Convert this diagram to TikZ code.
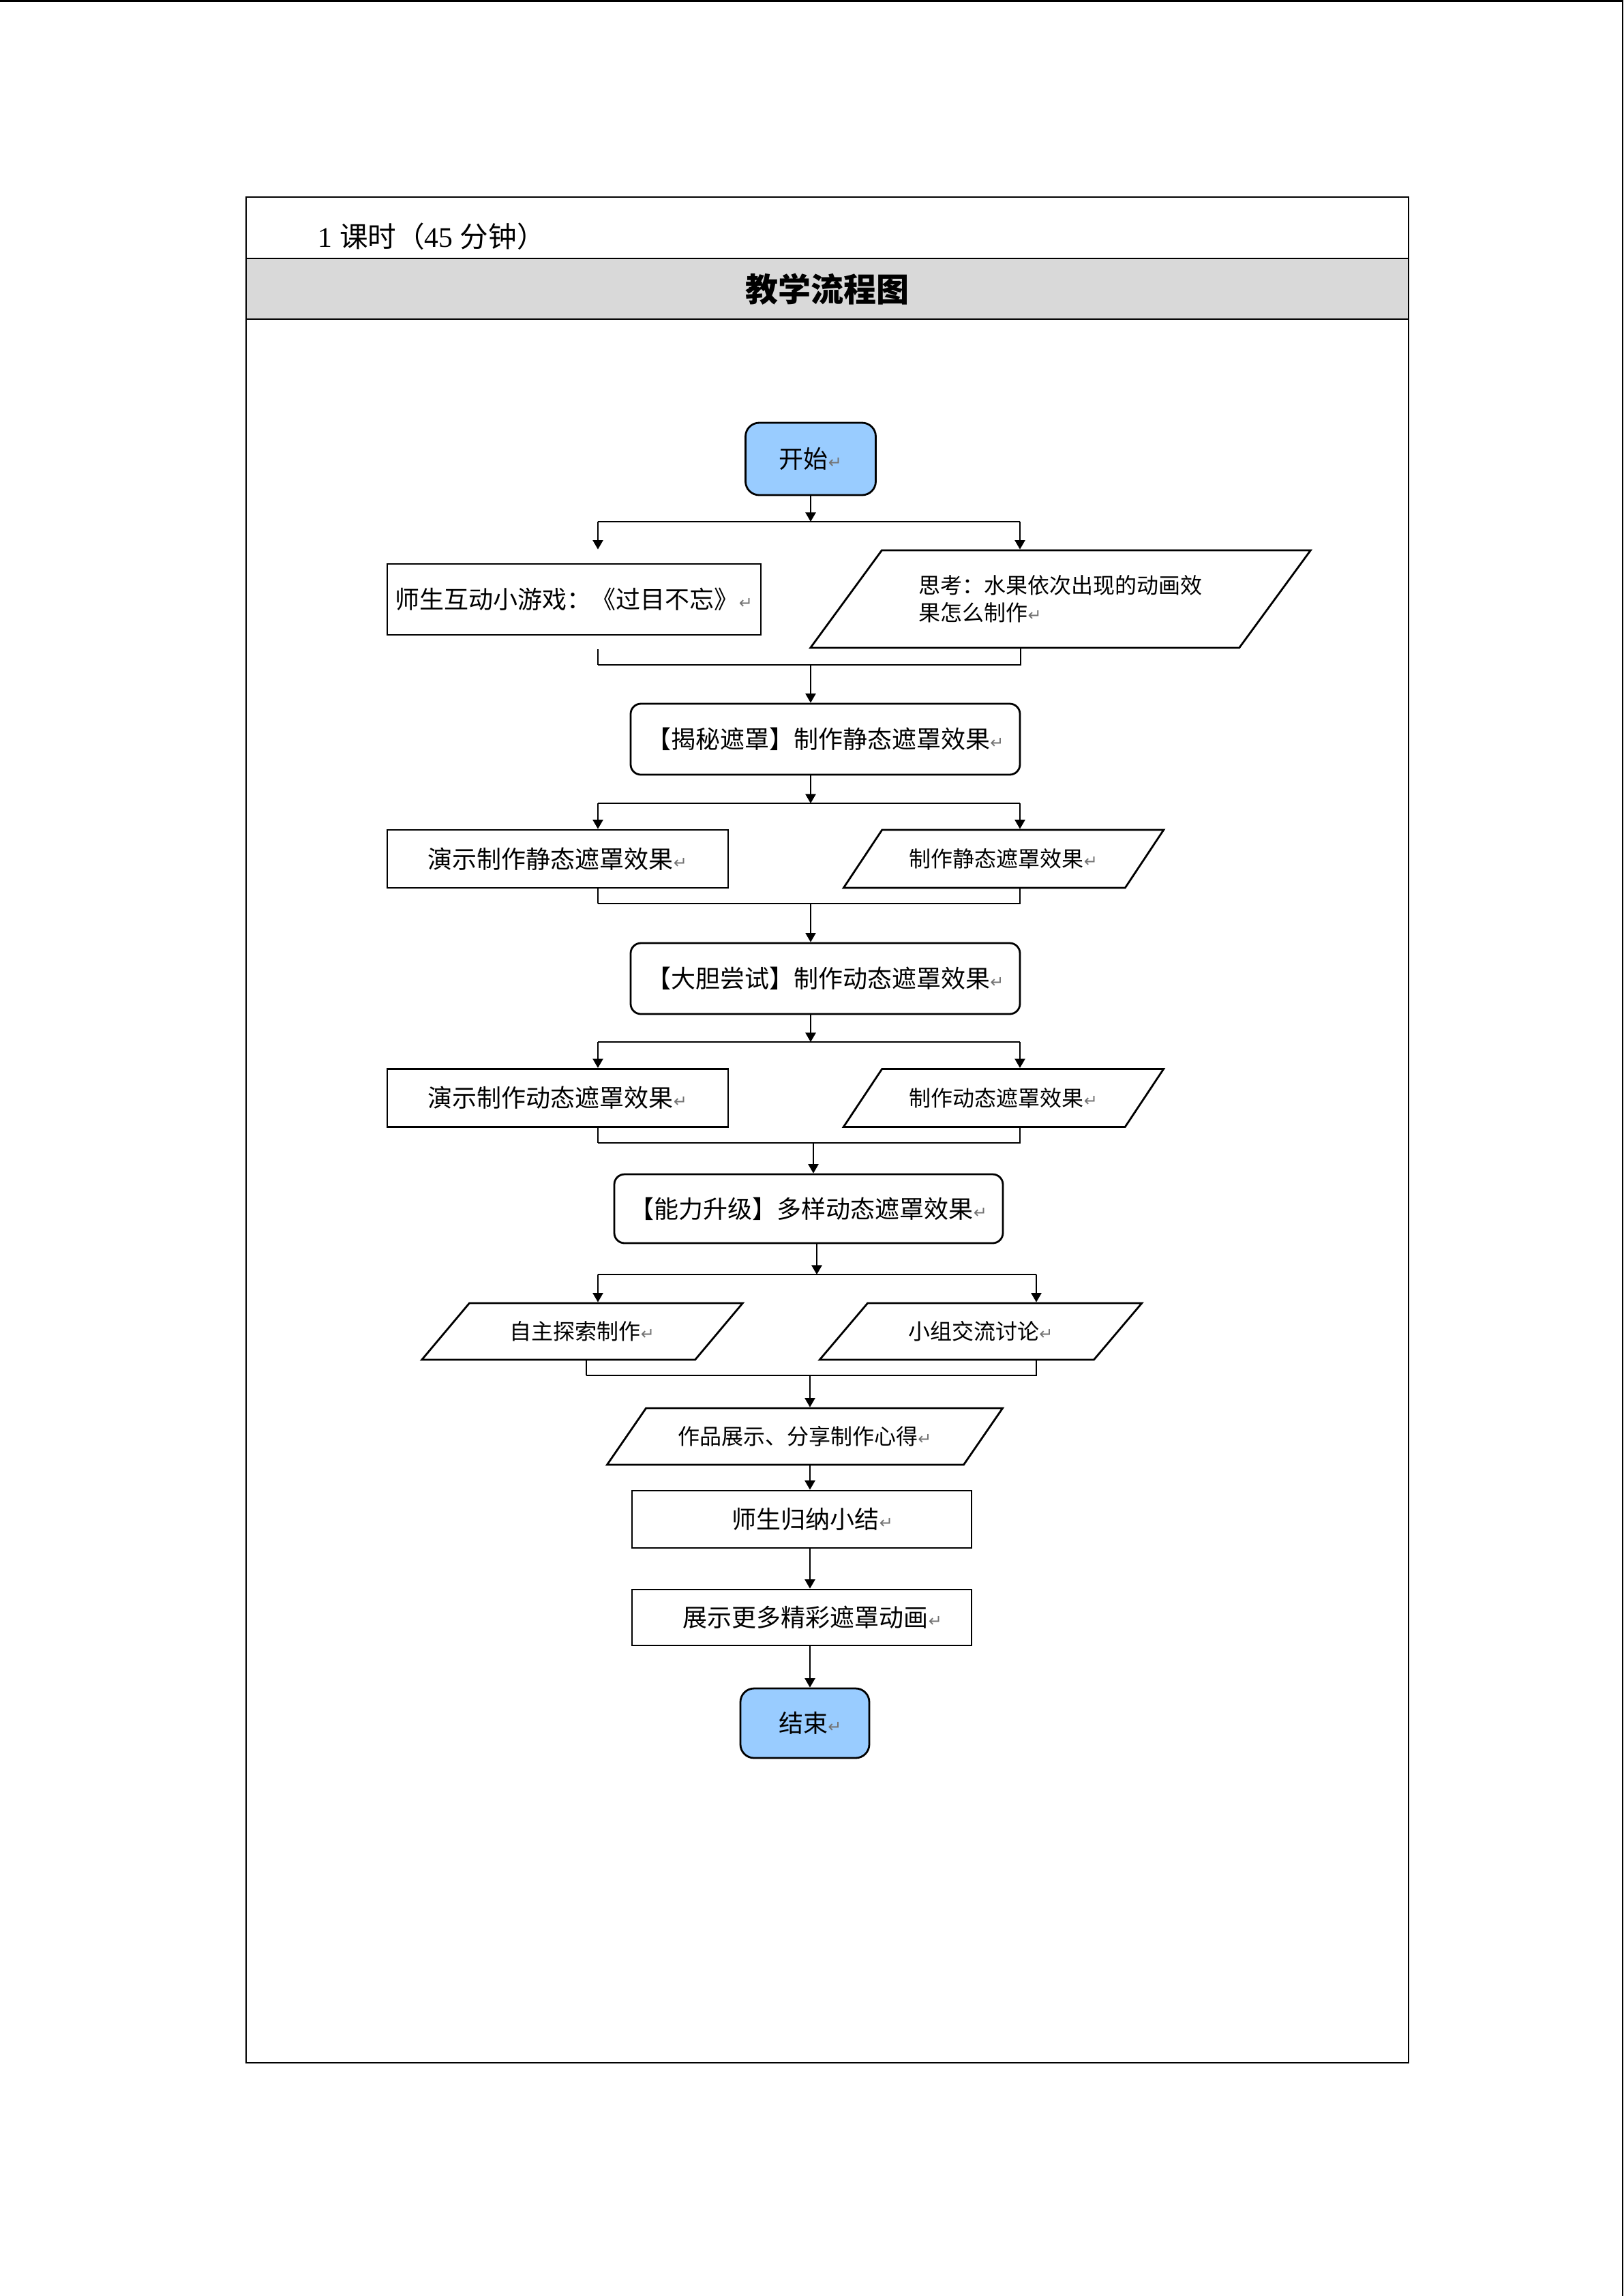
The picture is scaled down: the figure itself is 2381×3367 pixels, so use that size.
\documentclass[tikz,border=0pt]{standalone}
\usepackage{fontspec}
\setmainfont{Liberation Serif}
\newfontfamily\cjk{Noto Sans CJK SC}
\newfontfamily\symf{DejaVu Sans}
\usepackage{tikz}
\usetikzlibrary{arrows.meta}
\usetikzlibrary{shapes.geometric}
\definecolor{startblue}{HTML}{99CCFF}
\definecolor{headgray}{HTML}{D9D9D9}
\newcommand{\retmk}{{\symf\fontsize{6pt}{6pt}\selectfont\color{black!55}↵}}

\begin{document}
\begin{tikzpicture}[x=0.25pt,y=-0.25pt]
  \tikzset{startend/.style = {shape=rectangle,rounded corners=5pt,draw,line width=0.7pt,fill=startblue,inner sep=1pt,font=\cjk\fontsize{9pt}{11pt}\selectfont}}
  \tikzset{stagebox/.style = {shape=rectangle,rounded corners=3.75pt,draw,line width=0.7pt,inner sep=1pt,font=\cjk\fontsize{9pt}{11pt}\selectfont}}
  \tikzset{actbox/.style = {shape=rectangle,draw,line width=0.7pt,inner sep=1pt,font=\cjk\fontsize{9pt}{11pt}\selectfont}}
  \tikzset{iobox/.style = {shape=trapezium,trapezium stretches=true,draw,line width=0.7pt,inner sep=1pt,font=\cjk\fontsize{8pt}{10pt}\selectfont}}
  \tikzset{arr/.style = {-{Triangle[length=3.4pt,width=3.8pt]},line width=0.5pt}}
  \tikzset{link/.style = {line width=0.5pt}}

  \useasboundingbox (0,0) rectangle (2381,3367);

  % page edge
  \draw[line width=0.75pt] (0,1.5) -- (2381,1.5);
  \draw[line width=0.5pt] (2380,0) -- (2380,3367);

  % table
  \fill[headgray] (361,379) rectangle (2066,468);
  \draw[line width=0.6pt] (361,289) rectangle (2066,3025);
  \draw[line width=0.6pt] (361,379) -- (2066,379) (361,468) -- (2066,468);
  \node[anchor=west,inner sep=0pt,font=\fontsize{10.4pt}{12pt}\selectfont] (time) at (466,347) {1 {\cjk 课时（}45 {\cjk 分钟）}};
  \node[inner sep=0pt,font=\cjk\bfseries\fontsize{12pt}{14pt}\selectfont] (title) at (1213,424) {教学流程图};

  % flow
  \node[startend,minimum width=47.75pt,minimum height=26.5pt] (start) at (1189,673) {开始\retmk};
  \node[actbox,minimum width=137pt,minimum height=26pt] (game) at (842,879) {师生互动小游戏：《过目不忘》\retmk};
  \node[iobox,trapezium left angle=42.5,trapezium right angle=137.5,minimum width=183.75pt,minimum height=35.75pt,align=left] (think) at (1555.5,878.5) {思考：水果依次出现的动画效\\果怎么制作\retmk};

  \node[stagebox,minimum width=142.75pt,minimum height=26pt] (jiemi) at (1210.5,1084) {【揭秘遮罩】制作静态遮罩效果\retmk};
  \node[actbox,minimum width=125pt,minimum height=21.25pt] (demoa) at (818,1259.5) {演示制作静态遮罩效果\retmk};
  \node[iobox,trapezium left angle=40,trapezium right angle=140,minimum width=118.5pt,minimum height=21.25pt] (ioa) at (1472,1259.5) {制作静态遮罩效果\retmk};

  \node[stagebox,minimum width=142.75pt,minimum height=26pt] (dadan) at (1210.5,1435) {【大胆尝试】制作动态遮罩效果\retmk};
  \node[actbox,minimum width=125pt,minimum height=21.25pt] (demob) at (818,1610) {演示制作动态遮罩效果\retmk};
  \node[iobox,trapezium left angle=40,trapezium right angle=140,minimum width=118.5pt,minimum height=21.25pt] (iob) at (1472,1610) {制作动态遮罩效果\retmk};

  \node[stagebox,minimum width=142.5pt,minimum height=25.25pt] (nengli) at (1186,1772.5) {【能力升级】多样动态遮罩效果\retmk};
  \node[iobox,trapezium left angle=39,trapezium right angle=141,minimum width=118.5pt,minimum height=20.75pt] (selfio) at (854,1952.5) {自主探索制作\retmk};
  \node[iobox,trapezium left angle=39,trapezium right angle=141,minimum width=118.75pt,minimum height=20.75pt] (groupio) at (1438.5,1952.5) {小组交流讨论\retmk};

  \node[iobox,trapezium left angle=39,trapezium right angle=141,minimum width=145.25pt,minimum height=20.75pt] (showio) at (1180.5,2106.5) {作品展示、分享制作心得\retmk};
  \node[actbox,minimum width=124.5pt,minimum height=21pt] (sumup) at (1176,2228) {\hspace{8pt}师生归纳小结\retmk};
  \node[actbox,minimum width=124.5pt,minimum height=20.5pt] (more) at (1176,2372) {\hspace{8pt}展示更多精彩遮罩动画\retmk};
  \node[startend,minimum width=47.25pt,minimum height=25.5pt] (stop) at (1180.5,2527) {\hspace{4pt}结束\retmk};

  % forks
  \foreach \from/\xs/\y/\xl/\xr/\l/\r/\g in {start/1189/765/877/1496/game/think/5, jiemi/1189/1178/877/1496/demoa/ioa/0, dadan/1189/1528/877/1496/demob/iob/0, nengli/1198/1869/877/1520/selfio/groupio/0}
  {
    \coordinate (fk) at (\xs,\y);
    \coordinate (fkl) at (\xl,\y);
    \coordinate (fkr) at (\xr,\y);
    \draw[arr] (\from.south -| fk) -- (fk);
    \draw[link] (fkl) -- (fkr);
    \draw[arr,shorten >=\g pt] (fkl) -- (fkl |- \l.north);
    \draw[arr] (fkr) -- (fkr |- \r.north);
  }

  % joins
  \foreach \l/\r/\xl/\xr/\y/\xs/\to/\g in {game/think/877/1497/975/1189/jiemi/5, demoa/ioa/877/1496/1325/1189/dadan/0, demob/iob/877/1496/1676/1193/nengli/0, selfio/groupio/860/1520/2017/1188/showio/0}
  {
    \coordinate (jn) at (\xs,\y);
    \coordinate (jnl) at (\xl,\y);
    \coordinate (jnr) at (\xr,\y);
    \draw[link,shorten <=\g pt] (\l.south -| jnl) -- (jnl);
    \draw[link] (jnl) -- (jnr) -- (\r.south -| jnr);
    \draw[arr] (jn) -- (jn |- \to.north);
  }

  % straight
  \coordinate (cx) at (1188,0);
  \foreach \from/\to in {showio/sumup, sumup/more, more/stop}
    \draw[arr] (\from.south -| cx) -- (\to.north -| cx);
\end{tikzpicture}
\end{document}
